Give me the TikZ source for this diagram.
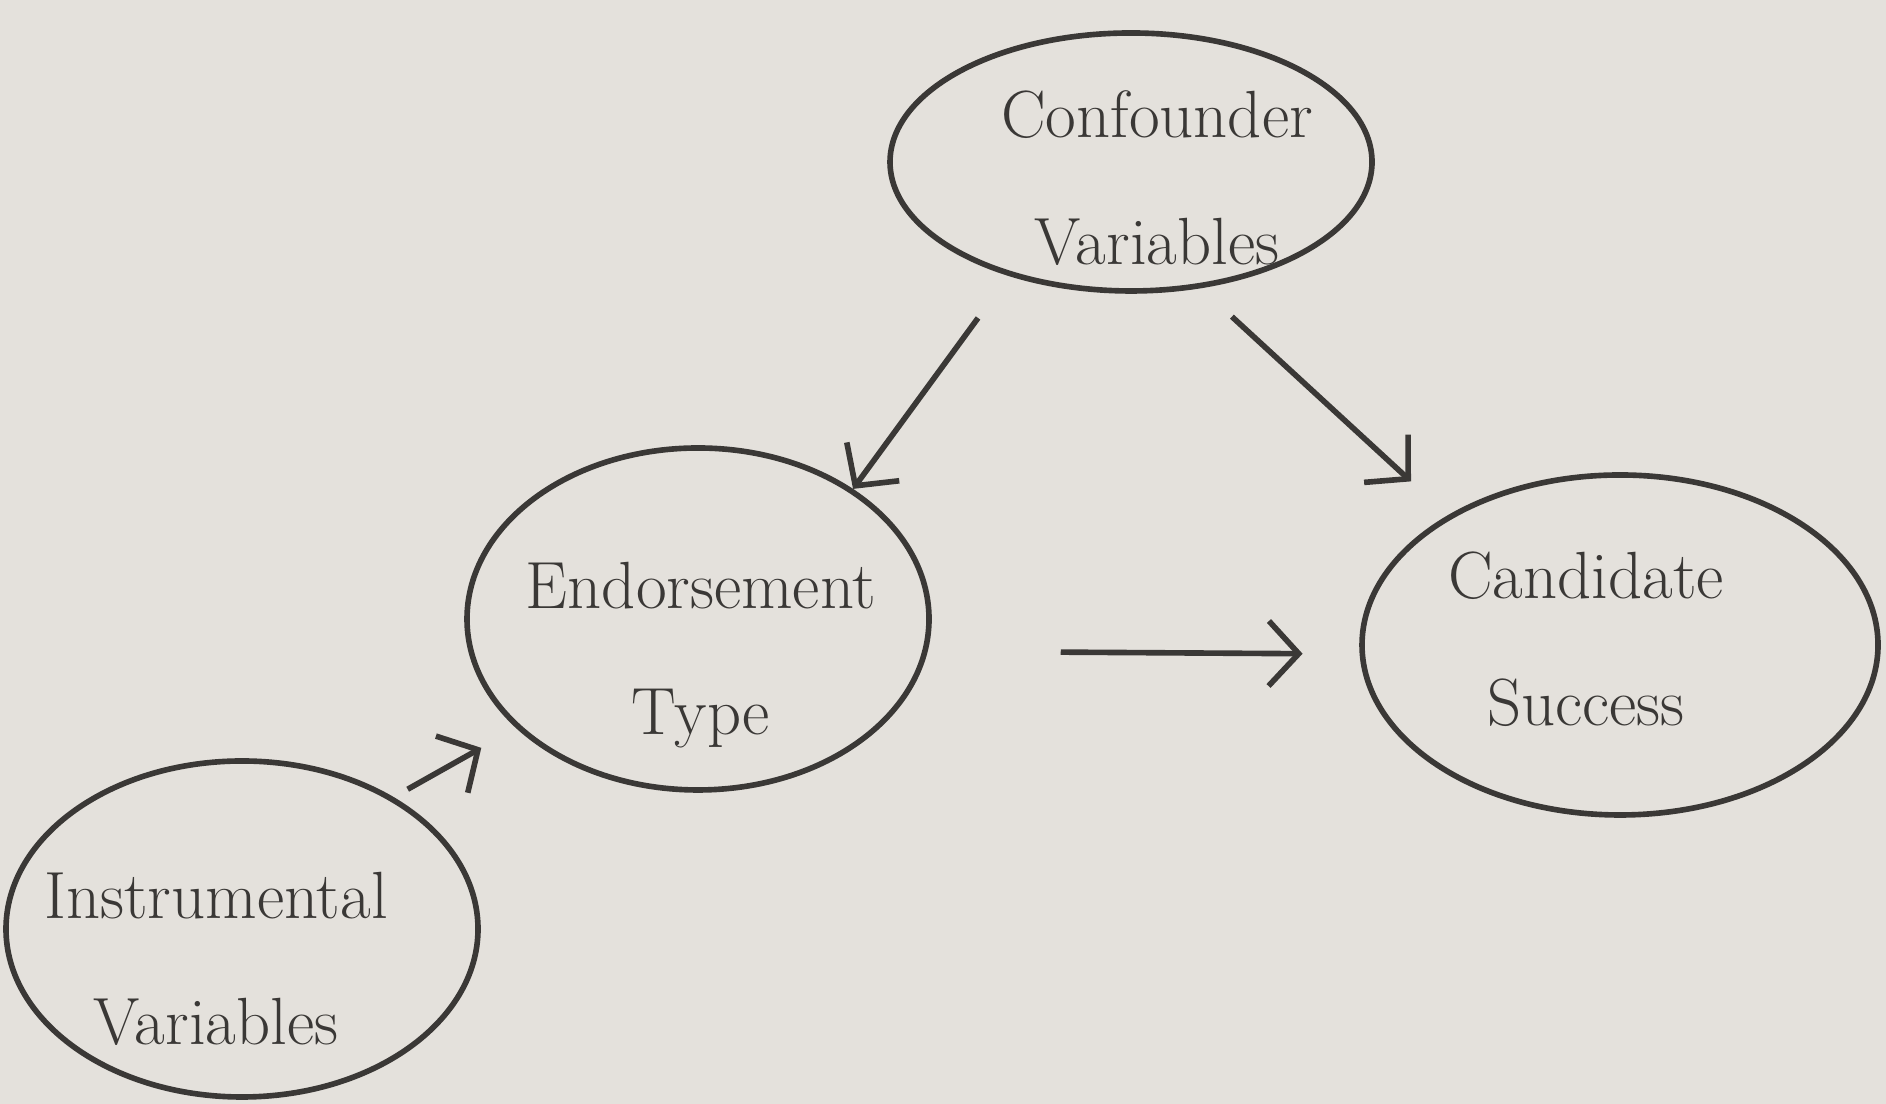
\documentclass[tikz,border=0pt]{standalone}
\usetikzlibrary{shapes.geometric,arrows.meta}
\definecolor{paper}{HTML}{E4E1DC}
\definecolor{pen}{HTML}{3A3836}
\begin{document}
\begin{tikzpicture}[
  blob/.style={ellipse, draw=pen, line width=1.6pt, inner sep=0pt},
  every label/.style={align=center, text=pen, font=\fontsize{19}{36}\selectfont},
  link/.style={draw=pen, line width=1.6pt, -{Straight Barb[length=3mm,width=6.5mm]}}
]
\fill[paper] (0,0) rectangle (18.86,11.04);
\useasboundingbox (0,0) rectangle (18.86,11.04);
% ellipses
\node[blob, minimum width=4.82cm, minimum height=2.58cm,
  label={[xshift=2.6mm,yshift=-1.6mm]center:Confounder\\Variables}] (conf) at (11.31,9.42) {};
\node[blob, minimum width=4.62cm, minimum height=3.42cm,
  label={[xshift=0.3mm,yshift=-3.6mm]center:Endorsement\\Type}] (endo) at (6.98,4.85) {};
\node[blob, minimum width=5.16cm, minimum height=3.40cm,
  label={[xshift=-3.4mm,yshift=0.6mm]center:Candidate\\Success}] (cand) at (16.20,4.59) {};
\node[blob, minimum width=4.72cm, minimum height=3.36cm,
  label={[xshift=-2.6mm,yshift=-3.0mm]center:Instrumental\\Variables}] (instr) at (2.42,1.75) {};
% arrows
\draw[link, shorten <=0.52cm] (conf.223) -- (endo.40);
\draw[link, shorten <=0.42cm, shorten >=0.50cm] (conf.299) -- (cand.143);
\draw[link, shorten <=1.33cm, shorten >=0.57cm] (endo.352) -- (cand.182);
\draw[link, shorten <=0.16cm, shorten >=0.40cm] (instr.41) -- (endo.211);
\end{tikzpicture}
\end{document}
